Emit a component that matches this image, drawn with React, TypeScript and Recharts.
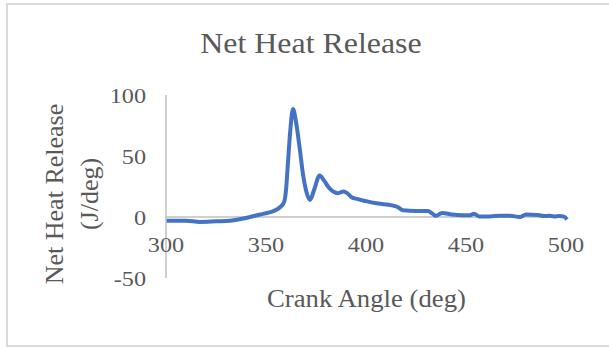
import { Line, LineChart, ReferenceLine, XAxis, YAxis } from 'recharts'

const crankAngle = [
  300, 310, 317, 325, 332, 338, 342, 347, 351, 354, 357, 359, 360, 361, 362, 363.5, 365, 366.8, 368.5,
  370, 372, 374, 376.8, 379, 381, 383.5, 386, 388.8, 391, 393, 395, 400, 406, 413, 416, 418.5, 425,
  431, 433, 435, 438, 443, 448, 452, 454, 456.5, 462, 467, 472, 477, 480, 486, 489, 491.5, 494, 496.5,
  499, 500.5,
]
const heatRelease = [
  -3, -3, -4, -3.5, -3, -1.5, 0, 2, 3.5, 5, 8, 12, 22, 45, 68, 88.5, 78, 57, 35,
  22, 14, 22, 34, 30, 25, 21, 19.5, 21, 19, 16, 15, 13, 11, 9.5, 8, 5.5, 5,
  5, 3, 1, 3.3, 2, 1.5, 1.5, 2.7, 0.5, 0.5, 1, 1, 0, 2, 1.6, 0.8, 1, 0.5, 0.8,
  0.3, -2,
]
const xTicks = [300, 350, 400, 450, 500]
const yTicks = [-50, 0, 50, 100]

const data = crankAngle.map((a, i) => ({ angle: a, net: heatRelease[i] }))

const Y_MIN = -50
const Y_MAX = 100
const PLOT_TOP = 95
const PLOT_BOTTOM = 278
const TEXT = '#595959'
const AXIS = '#BFBFBF'
const STRETCH = 1.1 // the source text is a bit wider than plain Times

// x labels sit just under the zero line, like Excel's crossing axis
function XTick({ x, y, payload }: { x?: number; y?: number; payload?: { value: number } }) {
  const plotH = PLOT_BOTTOM - PLOT_TOP
  const zeroUp = (plotH * (0 - Y_MIN)) / (Y_MAX - Y_MIN)
  return (
    <text
      transform={`translate(${x},${(y ?? 0) - zeroUp + 27}) scale(${STRETCH},1)`}
      textAnchor="middle"
      dominantBaseline="central"
      fill={TEXT}
      fontSize={22}
    >
      {payload?.value}
    </text>
  )
}

function YTick({ x, y, payload }: { x?: number; y?: number; payload?: { value: number } }) {
  return (
    <text
      transform={`translate(${x},${y}) scale(${STRETCH},1)`}
      textAnchor="end"
      dominantBaseline="central"
      fill={TEXT}
      fontSize={22}
    >
      {payload?.value}
    </text>
  )
}

function XTitle() {
  return (
    <text
      transform={`translate(366.5,307) scale(1.07,1)`}
      textAnchor="middle"
      fill={TEXT}
      fontSize={25}
    >
      Crank Angle (deg)
    </text>
  )
}

function YTitle() {
  return (
    <text transform="rotate(-90, 80, 194)" fill={TEXT} fontSize={26} textAnchor="middle">
      <tspan x={80} y={194 - 17}>Net Heat Release</tspan>
      <tspan x={80} y={194 + 18}>(J/deg)</tspan>
    </text>
  )
}

export default function App() {
  return (
    <div
      style={{
        position: 'absolute',
        left: 0,
        top: 0,
        width: 609,
        height: 347,
        overflow: 'hidden',
        background: '#fff',
        fontFamily: '"Liberation Serif", "Times New Roman", serif',
      }}
    >
      <div
        style={{
          position: 'absolute',
          left: 6,
          top: 3,
          width: 620,
          height: 344,
          border: '2px solid #D9D9D9',
          boxSizing: 'border-box',
        }}
      />
      <div
        style={{
          position: 'absolute',
          left: 111,
          top: 29,
          width: 400,
          textAlign: 'center',
          fontSize: 29,
          lineHeight: 1,
          color: TEXT,
          transform: 'scaleX(1.1)',
        }}
      >
        Net Heat Release
      </div>
      <LineChart
        width={609}
        height={347}
        data={data}
        margin={{ top: PLOT_TOP, right: 42, bottom: 57, left: 106 }}
        style={{ position: 'absolute', left: 0, top: 0 }}
      >
        <XAxis
          dataKey="angle"
          type="number"
          domain={[300, 500]}
          ticks={xTicks}
          height={12}
          axisLine={false}
          tickLine={false}
          tickSize={0}
          tickMargin={0}
          tick={<XTick />}
          label={<XTitle />}
        />
        <YAxis
          type="number"
          domain={[Y_MIN, Y_MAX]}
          ticks={yTicks}
          width={60}
          axisLine={{ stroke: AXIS, strokeWidth: 1.5 }}
          tickLine={false}
          tickSize={20}
          tickMargin={0}
          tick={<YTick />}
          label={<YTitle />}
        />
        <ReferenceLine y={0} stroke={AXIS} strokeWidth={1.5} />
        <Line
          dataKey="net"
          type="monotone"
          stroke="#4472C4"
          strokeWidth={4}
          dot={false}
          isAnimationActive={false}
        />
      </LineChart>
    </div>
  )
}
